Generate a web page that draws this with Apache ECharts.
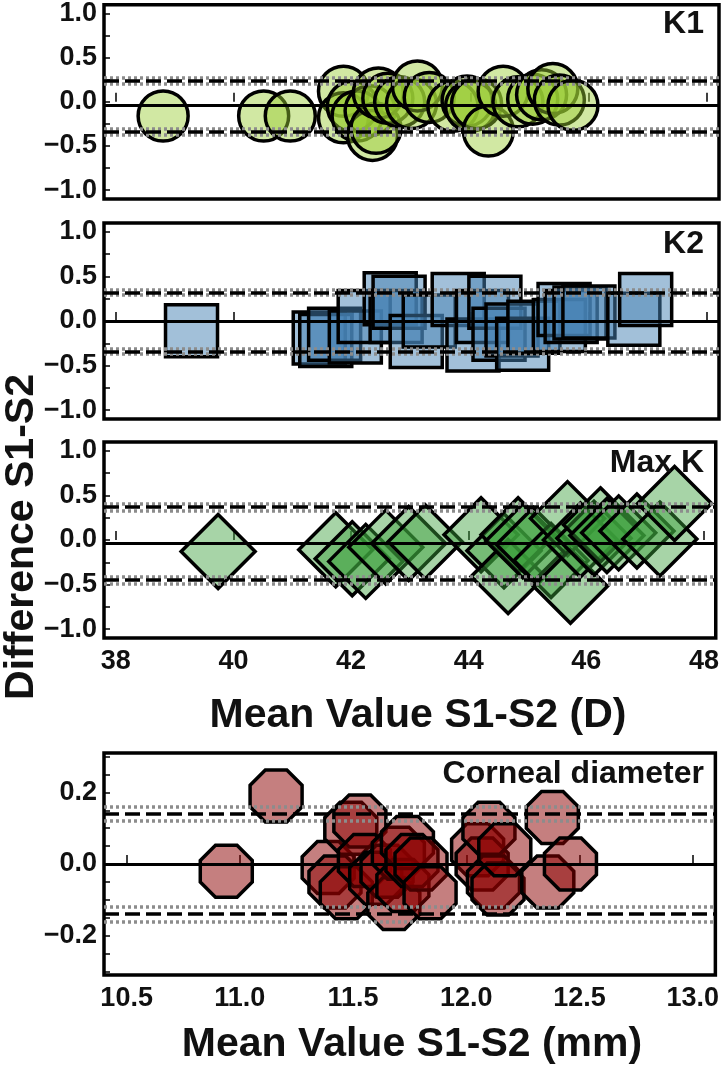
<!DOCTYPE html>
<html lang="en">
<head>
    <meta charset="UTF-8">
    <title>Bland-Altman S1-S2</title>
    <script src="https://cdn.jsdelivr.net/npm/echarts@6/dist/echarts.min.js"></script>
    <style>
        html,
        body {
            margin: 0;
            height: 100%;
            background: #fff;
        }
        #main {
            width: 722px;
            height: 1076px;
        }
    </style>
</head>
<body>
    <div id="main"></div>
    <script type="text/javascript">
        const myChart = echarts.init(document.getElementById('main'));
        const FONT = 'Liberation Sans, Arial, sans-serif';

        // K1 (mean value, difference)
        const k1X = [38.8, 40.5, 40.95, 41.85, 41.85, 42.0, 42.08, 42.3, 42.34, 42.4, 42.44, 42.6, 42.8, 43.0,
            43.1, 43.3, 43.7, 43.94, 44.0, 44.1, 44.3, 44.55, 44.8, 45.05, 45.2, 45.39, 45.5, 45.73];
        const k1Y = [-0.16, -0.16, -0.16, 0.12, -0.18, -0.05, -0.16, -0.10, -0.38, -0.30, 0.10, 0.04, 0.0, -0.02,
            0.18, 0.05, -0.05, 0.01, -0.05, -0.02, -0.33, 0.12, 0.0, 0.03, 0.08, 0.15, 0.02, -0.04];
        const k1Lines = [-0.04, 0.24, -0.34];           // mean, upper LoA, lower LoA
        const k1Ci = [0.27, 0.21, -0.31, -0.37];

        // K2
        const k2X = [39.28, 41.44, 41.55, 41.7, 42.05, 42.2, 42.64, 42.74, 42.79, 43.08, 43.3, 43.79, 44.04,
            44.2, 44.41, 44.48, 44.7, 44.88, 45.07, 45.5, 45.58, 45.7, 45.85, 46.0, 46.76, 46.96];
        const k2Y = [-0.11, -0.19, -0.22, -0.15, -0.18, 0.05, 0.25, 0.05, 0.21, -0.23, 0.0, 0.24, -0.27,
            0.05, 0.21, -0.15, -0.1, -0.26, -0.07, -0.05, 0.13, 0.05, 0.09, 0.1, 0.02, 0.24];
        const k2Lines = [0.0, 0.32, -0.34];
        const k2Ci = [0.35, 0.29, -0.31, -0.37];

        // Max K
        const maxKX = [39.74, 41.74, 42.02, 42.25, 42.59, 42.98, 43.26, 44.21, 44.6, 44.67, 44.84, 44.92,
            45.1, 45.4, 45.68, 45.73, 45.9, 46.13, 46.24, 46.35, 46.55, 46.86, 47.25, 47.5];
        const maxKY = [-0.13, -0.11, -0.21, -0.24, -0.08, -0.04, -0.02, 0.06, -0.12, -0.41, 0.06, -0.01,
            -0.05, -0.23, 0.24, -0.52, 0.0, 0.02, 0.17, 0.05, 0.08, 0.1, 0.01, 0.41];
        const maxKLines = [-0.04, 0.37, -0.45];
        const maxKCi = [0.41, 0.33, -0.41, -0.49];

        // Corneal diameter (mm)
        const cdX = [10.94, 11.16, 11.39, 11.42, 11.47, 11.49, 11.53, 11.55, 11.6, 11.65, 11.68, 11.7, 11.72,
            11.74, 11.76, 11.8, 11.84, 12.05, 12.07, 12.10, 12.12, 12.14, 12.17, 12.36, 12.38, 12.46];
        const cdY = [-0.02, 0.19, -0.01, -0.05, -0.08, 0.10, 0.12, 0.01, -0.04, -0.02, -0.11, 0.03, -0.06,
            0.06, 0.01, 0.0, -0.08, 0.04, 0.0, 0.10, -0.05, -0.07, 0.04, -0.05, 0.13, 0.0];
        const cdLines = [0.0, 0.14, -0.14];
        const cdCi = [0.16, 0.12, -0.12, -0.16];

        const dTicks = [38, 40, 42, 44, 46, 48];
        const mmTicks = [10.5, 11.0, 11.5, 12.0, 12.5, 13.0];
        const kYLabels = [-1, -0.5, 0, 0.5, 1];
        const kYTicks = [-1, -0.75, -0.5, -0.25, 0, 0.25, 0.5, 0.75, 1];
        const cdYLabels = [-0.2, 0, 0.2];
        const cdYTicks = [-0.3, -0.25, -0.2, -0.15, -0.1, -0.05, 0, 0.05, 0.1, 0.15, 0.2, 0.25, 0.3];

        const OCTAGON = 'path://M29.3 0L70.7 0L100 29.3L100 70.7L70.7 100L29.3 100L0 70.7L0 29.3Z';

        const panels = [
            { name: 'K1', xs: k1X, ys: k1Y, lines: k1Lines, ci: k1Ci, symbol: 'circle', size: 50,
              color: 'rgba(154,205,50,0.45)', top: 3, height: 196 },
            { name: 'K2', xs: k2X, ys: k2Y, lines: k2Lines, ci: k2Ci, symbol: 'rect', size: 52,
              color: 'rgba(70,130,180,0.5)', top: 223, height: 196 },
            { name: 'Max K', xs: maxKX, ys: maxKY, lines: maxKLines, ci: maxKCi, symbol: 'diamond', size: 74,
              color: 'rgba(60,160,60,0.45)', top: 442, height: 196 },
            { name: 'Corneal diameter', xs: cdX, ys: cdY, lines: cdLines, ci: cdCi, symbol: OCTAGON, size: 52,
              color: 'rgba(139,0,0,0.5)', top: 753, height: 222 }
        ];

        const fmtY = v => v.toFixed(1).replace('-', '\u2212');
        const labelStyle = { color: '#111', fontFamily: FONT, fontWeight: 'bold', fontSize: 27 };

        const grid = panels.map(p => ({
            left: 104, width: 615, top: p.top, height: p.height,
            show: true, borderColor: '#000', borderWidth: 3.5, backgroundColor: '#fff'
        }));

        const xAxis = panels.map((p, i) => {
            const isMm = i === 3;
            return {
                type: 'value', gridIndex: i,
                min: isMm ? 10.4 : 37.8, max: isMm ? 13.1 : 48.2,
                splitLine: { show: false },
                axisLine: { show: false },
                axisTick: { inside: true, length: 9, lineStyle: { color: '#000', width: 1.5 },
                    customValues: isMm ? mmTicks : dTicks },
                axisLabel: Object.assign({ show: i >= 2, margin: 10,
                    customValues: isMm ? mmTicks : dTicks,
                    formatter: v => isMm ? v.toFixed(1) : String(v) }, labelStyle)
            };
        });

        const yAxis = panels.map((p, i) => {
            const isMm = i === 3;
            return {
                type: 'value', gridIndex: i,
                min: isMm ? -0.31 : -1.1, max: isMm ? 0.31 : 1.1,
                splitLine: { show: false },
                axisLine: { show: false },
                axisTick: { inside: true, length: 6, lineStyle: { color: '#000', width: 1.5 },
                    customValues: isMm ? cdYTicks : kYTicks },
                axisLabel: Object.assign({ margin: 7,
                    customValues: isMm ? cdYLabels : kYLabels,
                    formatter: fmtY }, labelStyle)
            };
        });

        const series = [];
        panels.forEach((p, i) => {
            const ciLine = v => ({ yAxis: v, lineStyle: { color: '#8c8c8c', type: [3, 3], width: 3.5 } });
            series.push({
                type: 'scatter', xAxisIndex: i, yAxisIndex: i, data: [], z: 1, silent: true,
                markLine: {
                    symbol: 'none', silent: true, animation: false,
                    label: { show: false },
                    data: [
                        ...p.ci.map(ciLine),
                        { yAxis: p.lines[0], lineStyle: { color: '#000', type: 'solid', width: 3 } },
                        { yAxis: p.lines[1], lineStyle: { color: '#000', type: [15, 6], width: 3.5 } },
                        { yAxis: p.lines[2], lineStyle: { color: '#000', type: [15, 6], width: 3.5 } }
                    ]
                }
            });
            series.push({
                type: 'scatter', xAxisIndex: i, yAxisIndex: i, z: 2,
                symbol: p.symbol, symbolSize: p.size,
                itemStyle: { color: p.color, borderColor: '#000', borderWidth: 3.5, opacity: 1 },
                data: p.xs.map((x, k) => [x, p.ys[k]])
            });
        });

        const title = panels.map(p => ({
            text: p.name, right: 18, top: p.top + 5, padding: 0,
            textStyle: { fontFamily: FONT, fontWeight: 'bold', fontSize: 32, color: '#111' }
        }));

        const axisTitle = { fontFamily: FONT, fontWeight: 'bold', fontSize: 41, fill: '#111' };

        myChart.setOption({
            animation: false,
            title: title,
            grid: grid,
            xAxis: xAxis,
            yAxis: yAxis,
            series: series,
            graphic: [
                { type: 'text', x: 22, y: 537, rotation: Math.PI / 2,
                  style: Object.assign({ text: 'Difference S1-S2', align: 'center', verticalAlign: 'middle' }, axisTitle) },
                { type: 'text', x: 418, y: 716,
                  style: Object.assign({ text: 'Mean Value S1-S2 (D)', align: 'center', verticalAlign: 'middle' }, axisTitle) },
                { type: 'text', x: 412, y: 1045,
                  style: Object.assign({ text: 'Mean Value S1-S2 (mm)', align: 'center', verticalAlign: 'middle' }, axisTitle) }
            ]
        });
    </script>
</body>
</html>
